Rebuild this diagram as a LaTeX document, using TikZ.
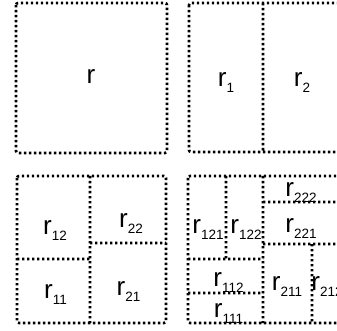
\documentclass[tikz,border=0pt]{standalone}
\usepackage{fontspec}
\setmainfont{Liberation Sans}
\newcommand{\rpart}[1]{{\fontsize{26}{26}\selectfont r}\raisebox{-6pt}{\fontsize{13.5}{13.5}\selectfont #1}}
\begin{document}
\begin{tikzpicture}[x=1pt,y=-1pt,
    part/.style={line width=2.6pt,dash pattern=on 2.4pt off 2.6pt,rounded corners=2pt},
    lab/.style={inner sep=0pt}]
    \useasboundingbox (0,0) rectangle (337,331);
    \clip (0,0) rectangle (337,331);
    % whole region
    \draw[part] (16,3) rectangle (167,153);
    \node[lab] (r) at (91,77) {\fontsize{26}{26}\selectfont r};
    % first split
    \draw[part] (189,3) rectangle (340,152)
        (263,3) -- (263,152);
    \node[lab] (r1) at (226,83) {\rpart{1}};
    \node[lab] (r2) at (302,83) {\rpart{2}};
    % second split
    \draw[part] (17,176) rectangle (166,323)
        (90,176) -- (90,323)
        (17,259) -- (90,259)
        (90,243) -- (166,243);
    \node[lab] (r12) at (55,230.5) {\rpart{12}};
    \node[lab] (r22) at (131,223.5) {\rpart{22}};
    \node[lab] (r11) at (55.5,294.5) {\rpart{11}};
    \node[lab] (r21) at (128.5,291.5) {\rpart{21}};
    % third split
    \draw[part] (188,176) rectangle (340,323)
        (263,176) -- (263,323)
        (226,176) -- (226,259)
        (188,259) -- (263,259)
        (188,293) -- (263,293)
        (263,202) -- (340,202)
        (263,244) -- (340,244)
        (312,244) -- (312,323);
    \node[lab] (r121) at (208,230) {\rpart{121}};
    \node[lab] (r122) at (246,230) {\rpart{122}};
    \node[lab] (r222) at (301,193) {\rpart{222}};
    \node[lab] (r221) at (301,229) {\rpart{221}};
    \node[lab] (r112) at (228.5,282.5) {\rpart{112}};
    \node[lab] (r111) at (228.5,314) {\rpart{111}};
    \node[lab] (r211) at (287,287) {\rpart{211}};
    \node[lab] (r212) at (327,287) {\rpart{212}};
\end{tikzpicture}
\end{document}
